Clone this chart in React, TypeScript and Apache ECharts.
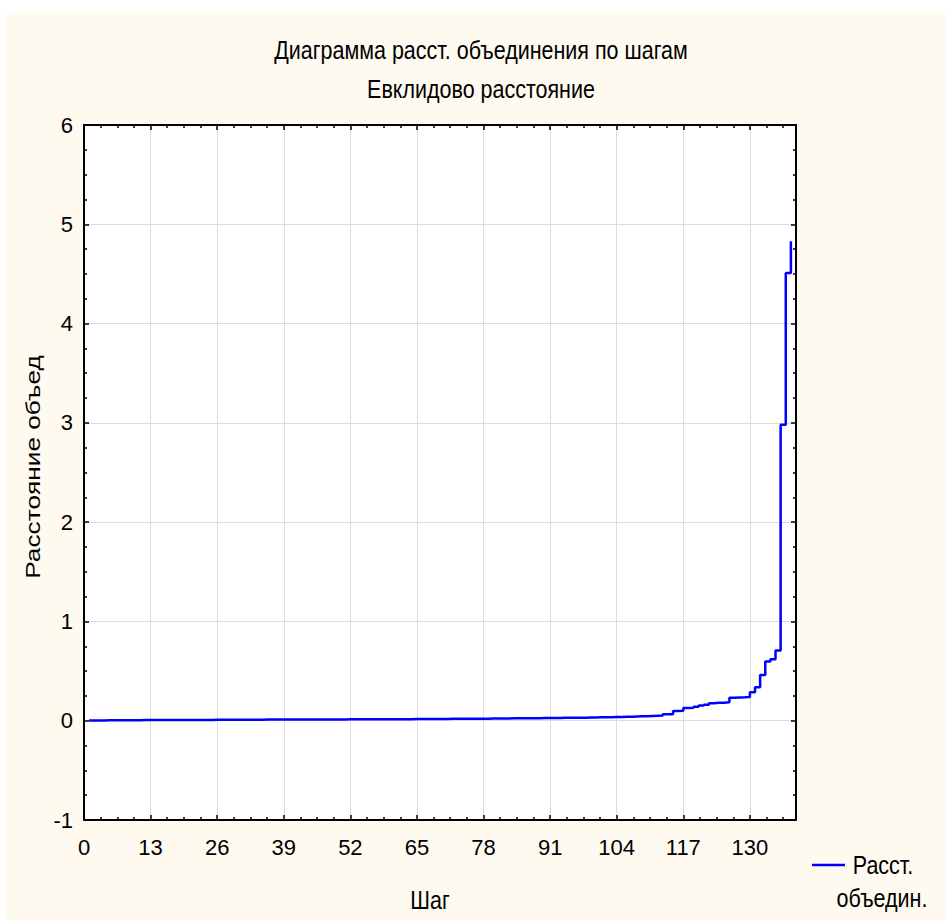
import React, { useEffect, useRef } from "react";
import * as echarts from "echarts";

const TITLE = "Диаграмма расст. объединения по шагам";
const SUBTITLE = "Евклидово расстояние";
const X_NAME = "Шаг";
const Y_NAME = "Расстояние объед";
const LEGEND_LINES = ["Расст.", "объедин."];

// Linkage distance at each step 1..138
const distances = [
  0.002, 0.003, 0.003, 0.004, 0.004, 0.004, 0.005, 0.005, 0.005, 0.005,
  0.006, 0.006, 0.006, 0.006, 0.007, 0.007, 0.007, 0.007, 0.007, 0.008,
  0.008, 0.008, 0.008, 0.008, 0.009, 0.009, 0.009, 0.009, 0.009, 0.010,
  0.010, 0.010, 0.010, 0.010, 0.011, 0.011, 0.011, 0.011, 0.011, 0.012,
  0.012, 0.012, 0.012, 0.012, 0.012, 0.013, 0.013, 0.013, 0.013, 0.013,
  0.014, 0.014, 0.014, 0.014, 0.014, 0.015, 0.015, 0.015, 0.015, 0.015,
  0.016, 0.016, 0.016, 0.017, 0.017, 0.017, 0.017, 0.018, 0.018, 0.018,
  0.019, 0.019, 0.019, 0.020, 0.020, 0.020, 0.021, 0.021, 0.022, 0.022,
  0.023, 0.023, 0.024, 0.024, 0.025, 0.025, 0.026, 0.026, 0.027, 0.027,
  0.028, 0.028, 0.029, 0.029, 0.030, 0.031, 0.031, 0.032, 0.033, 0.034,
  0.035, 0.036, 0.037, 0.038, 0.039, 0.040, 0.042, 0.044, 0.046, 0.048,
  0.050, 0.052, 0.065, 0.066, 0.098, 0.100, 0.128, 0.130, 0.141, 0.152,
  0.160, 0.176, 0.180, 0.182, 0.185, 0.232, 0.234, 0.236, 0.240, 0.287,
  0.337, 0.460, 0.596, 0.620, 0.707, 2.980, 4.510, 4.830,
];

const X_MIN = 0;
const X_MAX = 139;
const X_INTERVAL = 13;
const Y_MIN = -1;
const Y_MAX = 6;
const Y_INTERVAL = 1;

const NARROW = "'Liberation Sans Narrow', 'Arial Narrow', 'Liberation Sans', Arial, sans-serif";
const REGULAR = "'Liberation Sans', Arial, sans-serif";

export default function App() {
  const ref = useRef<HTMLDivElement>(null);

  useEffect(() => {
    if (!ref.current) return;
    const chart = echarts.init(ref.current, undefined, { renderer: "svg" });
    const seriesData = distances.map((v, i) => [i + 1, v]);

    const axisLine = { show: true, onZero: false, lineStyle: { color: "#000", width: 2 } };
    const tick = { show: true, inside: true, length: 5, lineStyle: { color: "#000", width: 1.5 } };
    const minor = { show: true, splitNumber: 4, length: 3, lineStyle: { color: "#000", width: 1.5 } };

    const narrowText = (text: string, x: number, y: number, size = 25, sx = 0.86) => ({
      type: "text",
      x,
      y,
      scaleX: sx,
      style: {
        text,
        fontSize: size,
        fontFamily: NARROW,
        fill: "#000",
        align: "center",
        verticalAlign: "middle",
      },
    });

    chart.setOption({
      animation: false,
      backgroundColor: "#FEFAF0",
      grid: {
        left: 78,
        top: 113,
        width: 712,
        height: 695,
        show: true,
        backgroundColor: "#ffffff",
        borderWidth: 0,
      },
      xAxis: [
        {
          type: "value",
          position: "bottom",
          min: X_MIN,
          max: X_MAX,
          interval: X_INTERVAL,
          axisLine,
          axisTick: tick,
          minorTick: { ...minor },
          splitLine: { show: true, lineStyle: { color: "#dcdcdc", width: 1 } },
          axisLabel: {
            show: true,
            margin: 16,
            color: "#000",
            fontSize: 22,
            fontFamily: NARROW,
            showMaxLabel: false,
          },
        },
        {
          type: "value",
          position: "top",
          min: X_MIN,
          max: X_MAX,
          interval: X_INTERVAL,
          axisLine,
          axisTick: tick,
          minorTick: { ...minor },
          splitLine: { show: false },
          axisLabel: { show: false },
        },
      ],
      yAxis: [
        {
          type: "value",
          position: "left",
          min: Y_MIN,
          max: Y_MAX,
          interval: Y_INTERVAL,
          axisLine,
          axisTick: tick,
          minorTick: { ...minor },
          splitLine: { show: true, lineStyle: { color: "#dcdcdc", width: 1 } },
          axisLabel: {
            show: true,
            margin: 11,
            color: "#000",
            fontSize: 22,
            fontFamily: NARROW,
          },
        },
        {
          type: "value",
          position: "right",
          min: Y_MIN,
          max: Y_MAX,
          interval: Y_INTERVAL,
          axisLine,
          axisTick: tick,
          minorTick: { ...minor },
          splitLine: { show: false },
          axisLabel: { show: false },
        },
      ],
      series: [
        {
          name: LEGEND_LINES.join(" "),
          type: "line",
          step: "end",
          xAxisIndex: 0,
          yAxisIndex: 0,
          data: seriesData,
          showSymbol: false,
          symbol: "none",
          lineStyle: { color: "#0000FF", width: 2.5 },
          itemStyle: { color: "#0000FF" },
          z: 5,
        },
      ],
      graphic: [
        narrowText(TITLE, 475, 38),
        narrowText(SUBTITLE, 475, 77),
        narrowText(X_NAME, 424, 888),
        {
          type: "text",
          x: 26,
          y: 455,
          rotation: Math.PI / 2,
          scaleX: 1.25,
          style: {
            text: Y_NAME,
            fontSize: 21,
            fontFamily: REGULAR,
            fill: "#000",
            align: "center",
            verticalAlign: "middle",
          },
        },
        {
          type: "line",
          shape: { x1: 806, y1: 853, x2: 839, y2: 853 },
          style: { stroke: "#0000FF", lineWidth: 2.5 },
        },
        narrowText(LEGEND_LINES[0], 877, 853),
        narrowText(LEGEND_LINES[1], 876, 886),
      ],
    });

    return () => chart.dispose();
  }, []);

  return (
    <div
      style={{
        position: "fixed",
        left: 0,
        top: 0,
        width: 945,
        height: 921,
        background: "#ffffff",
      }}
    >
      <div
        ref={ref}
        style={{ position: "absolute", left: 6, top: 12, width: 939, height: 909 }}
      />
    </div>
  );
}
